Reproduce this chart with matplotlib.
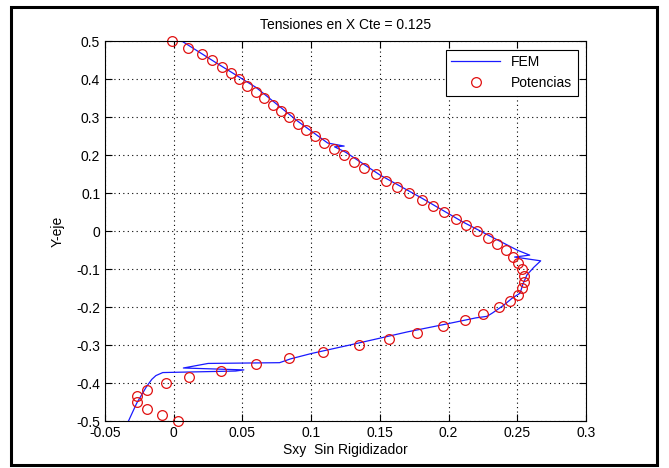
import matplotlib
matplotlib.use("Agg")
from matplotlib import pyplot as plt
from matplotlib.patches import Rectangle

plt.rcParams['font.family'] = ['Liberation Sans Narrow', 'Liberation Sans', 'DejaVu Sans']
plt.rcParams['axes.unicode_minus'] = False

# FEM curve (x = Sxy, y = Y-eje)
fem_x = [0.006, 0.03, 0.06, 0.09, 0.112, 0.124, 0.117, 0.125, 0.15, 0.18, 0.21,
         0.235, 0.25, 0.259, 0.248, 0.267, 0.262, 0.257, 0.254, 0.252, 0.246,
         0.24, 0.232, 0.228, 0.22, 0.196, 0.17, 0.13, 0.1, 0.085, 0.077, 0.025,
         0.007, 0.051, 0.045, -0.008, -0.013, -0.016, -0.02, -0.027, -0.033]
fem_y = [0.5, 0.445, 0.378, 0.29, 0.232, 0.224, 0.222, 0.208, 0.148, 0.088, 0.025,
         -0.022, -0.05, -0.063, -0.068, -0.078, -0.095, -0.115, -0.14, -0.163, -0.177,
         -0.195, -0.215, -0.224, -0.228, -0.246, -0.265, -0.298, -0.322, -0.336, -0.346, -0.348,
         -0.36, -0.365, -0.368, -0.372, -0.38, -0.39, -0.41, -0.453, -0.5]

# Potencias points
pot_x = [-0.001, 0.0106, 0.0204, 0.0277, 0.0349, 0.0415, 0.0475, 0.0536, 0.0597, 0.0657,
         0.0725, 0.0781, 0.0841, 0.0902, 0.0961, 0.1028, 0.1094, 0.1167, 0.1242, 0.1312,
         0.1387, 0.147, 0.1545, 0.1623, 0.1715, 0.1805, 0.1884, 0.197, 0.2052, 0.2127,
         0.221, 0.2285, 0.235, 0.2416, 0.2467, 0.2508, 0.2533, 0.2549, 0.2551, 0.2533,
         0.2503, 0.2448, 0.2368, 0.2249, 0.212, 0.1962, 0.177, 0.1567, 0.1349, 0.1087,
         0.0839, 0.0597, 0.0344, 0.0114, -0.0058, -0.0197, -0.0265, -0.0265, -0.0197, -0.0088,
         0.0033]
pot_y = [0.5, 0.483, 0.467, 0.45, 0.433, 0.417, 0.4, 0.383, 0.367, 0.35,
         0.333, 0.317, 0.3, 0.283, 0.267, 0.25, 0.233, 0.217, 0.2, 0.183,
         0.167, 0.15, 0.133, 0.117, 0.1, 0.083, 0.067, 0.05, 0.033, 0.017,
         0.0, -0.017, -0.033, -0.05, -0.067, -0.083, -0.1, -0.117, -0.133, -0.15,
         -0.167, -0.183, -0.2, -0.217, -0.233, -0.25, -0.267, -0.283, -0.3, -0.317,
         -0.333, -0.35, -0.367, -0.383, -0.4, -0.417, -0.433, -0.45, -0.467, -0.483,
         -0.5]

x_ticks = [-0.05, 0, 0.05, 0.1, 0.15, 0.2, 0.25, 0.3]
y_ticks = [-0.5, -0.4, -0.3, -0.2, -0.1, 0, 0.1, 0.2, 0.3, 0.4, 0.5]

fig = plt.figure(figsize=(6.69, 4.68), dpi=100)
ax = fig.add_axes([0.157, 0.100, 0.719, 0.812])

ax.plot(fem_x, fem_y, color="#1a1aff", linewidth=0.9, label="FEM")
ax.plot(pot_x, pot_y, linestyle="none", marker="o", markersize=7,
        markerfacecolor="none", markeredgecolor="#e01010", markeredgewidth=0.9,
        label="Potencias", clip_on=False)

ax.set_xlim(-0.05, 0.3)
ax.set_ylim(-0.5, 0.5)
ax.set_xticks(x_ticks)
ax.set_yticks(y_ticks)
ax.set_xticklabels(["%g" % v for v in x_ticks])
ax.set_yticklabels(["%g" % v for v in y_ticks])
ax.tick_params(direction="in", length=5, width=0.8, top=True, right=True,
               labelsize=10, colors="black")
ax.grid(True, linestyle=(0, (1, 3)), color="black", linewidth=0.8)
for s in ax.spines.values():
    s.set_linewidth(0.8)

ax.set_title("Tensiones en X Cte = 0.125", fontsize=10, pad=9)
ax.set_xlabel("Sxy  Sin Rigidizador", fontsize=10, labelpad=2)
ax.set_ylabel("Y-eje", fontsize=10, labelpad=8)

leg = ax.legend(loc="upper right", fontsize=10, handlelength=3.5,
                fancybox=False, framealpha=1, edgecolor="black",
                borderaxespad=0.6, borderpad=0.4)
leg.get_frame().set_linewidth(0.8)

fig.patches.append(Rectangle((0.016, 0.006), 0.966, 0.98, transform=fig.transFigure,
                             fill=False, edgecolor="black", linewidth=2.2))

fig.savefig("out.png", dpi=100)
